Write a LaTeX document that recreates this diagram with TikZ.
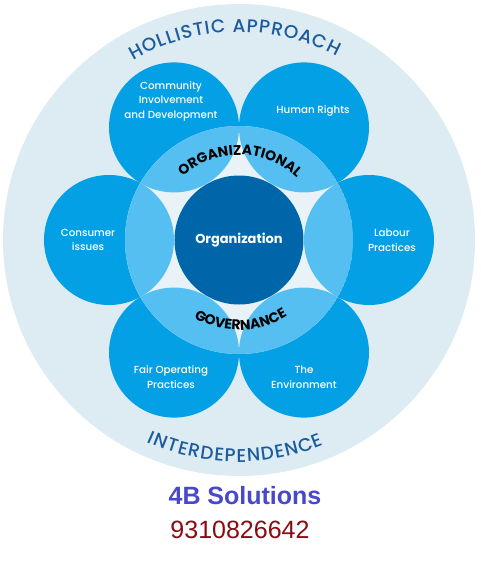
\documentclass[tikz,border=0pt]{standalone}
\usepackage{fontspec}
\usetikzlibrary{decorations.text}
\newfontfamily\gothic{Poppins}[UprightFont=*-Medium]
\newfontfamily\gothicb{Poppins}[UprightFont=*-Bold]
\newfontfamily\arialf{Liberation Sans}
\definecolor{bigc}{HTML}{DDEBF2}
\definecolor{palec}{HTML}{E9F2F7}
\definecolor{petalc}{HTML}{03A0E6}
\definecolor{lightc}{HTML}{56BFF1}
\definecolor{orgc}{HTML}{0066AA}
\definecolor{holc}{HTML}{1B5C9E}
\definecolor{solc}{HTML}{4848C8}
\definecolor{phonec}{HTML}{8A0A12}
\tikzset{
  petal/.style={circle, fill=petalc, minimum size=130, inner sep=0},
  ptext/.style={text=white, align=center, font=\gothic\fontsize{10.3}{14.5}\selectfont},
}
\begin{document}
\begin{tikzpicture}[x=1pt,y=1pt]
\useasboundingbox (-239,-331) rectangle (241,240);
\fill[white] (-239,-331) rectangle (241,240);
\node[circle, fill=bigc, minimum size=472, inner sep=0] (outer) at (0,0) {};
\foreach \n/\a in {pcom/120, phum/60, pcon/180, plab/0, pfair/240, penv/300}
  \node[petal] (\n) at (\a:130) {};
\begin{scope}
  \clip (0,0) circle[radius=114];
  \node[circle, fill=palec, minimum size=228, inner sep=0] (ring) at (0,0) {};
  \foreach \a in {120,60,180,0,240,300}
    \fill[lightc] (\a:130) circle[radius=65];
\end{scope}
\node[circle, fill=orgc, minimum size=129, inner sep=0] (org) at (0,0) {};
\node[text=white, font=\gothicb\fontsize{13}{15}\selectfont] (orgt) at (org.center) {Organization};
\node[ptext] (tcom) at (-68,139) {Community\\Involvement\\and Development};
\node[ptext] (thum) at (74,129) {Human Rights};
\node[ptext] (tcon) at (-151,0) {Consumer\\issues};
\node[ptext] (tlab) at (153,0) {Labour\\Practices};
\node[ptext] (tfair) at (-68,-137) {Fair Operating\\Practices};
\node[ptext] (tenv) at (65,-137) {The\\Environment};
\path[decorate, decoration={text along path, text align={fit to path},
  text={|\gothic\fontsize{18.5}{18.5}\selectfont\color{holc}|HOLLISTIC APPROACH}}]
  (120.5:208) arc[start angle=120.5, end angle=62, radius=208];
\path[decorate, decoration={text along path, text align={fit to path},
  text={|\gothic\fontsize{18.5}{18.5}\selectfont\color{holc}|INTERDEPENDENCE}}]
  (245.5:222) arc[start angle=245.5, end angle=292.5, radius=222];
\path[decorate, decoration={text along path, text align={fit to path},
  text={|\gothicb\fontsize{14}{14}\selectfont\color{black}|ORGANIZATIONAL}}]
  (131.5:85) arc[start angle=131.5, end angle=47.5, radius=85];
\path[decorate, decoration={text along path, text align={fit to path},
  text={|\gothicb\fontsize{14}{14}\selectfont\color{black}|GOVERNANCE}}]
  (240:90) arc[start angle=240, end angle=302, radius=90];
\node[font=\arialf\bfseries\fontsize{25}{25}\selectfont, text=solc] (sol) at (6,-256) {4B Solutions};
\node[font=\arialf\fontsize{25}{25}\selectfont, text=phonec] (phone) at (1,-289.5) {9310826642};
\end{tikzpicture}
\end{document}
